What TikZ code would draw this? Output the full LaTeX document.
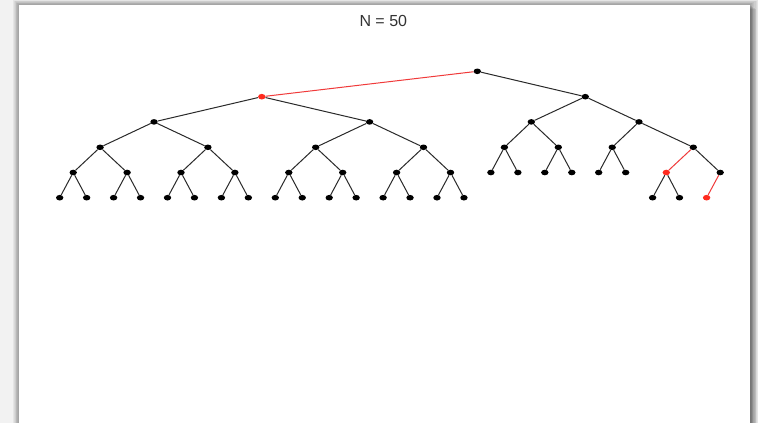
\documentclass[tikz,border=0pt]{standalone}
\usepackage{fontspec}
\setmainfont{Liberation Sans}
\usetikzlibrary{shapes.geometric}
\definecolor{bggray}{HTML}{F2F2F2}
\definecolor{hlred}{HTML}{FF2A1E}
\definecolor{hlline}{HTML}{F03A3A}
\definecolor{edgegray}{HTML}{2A2A2A}
\tikzset{
  dot/.style={shape=ellipse, fill=black, draw=none, minimum width=7.4pt, minimum height=5.6pt, inner sep=0pt},
  reddot/.style={dot, fill=hlred},
  edge/.style={draw=edgegray, line width=1pt},
  redge/.style={draw=hlline, line width=1pt},
  title/.style={font=\fontsize{16}{18}\selectfont, text=black!80, anchor=base, inner sep=0pt}
}
\begin{document}
\begin{tikzpicture}[x=1pt,y=-1pt]
\useasboundingbox (0,0) rectangle (758,423);
\fill[bggray] (0,0) rectangle (758,423);
% panel shadow
\foreach \i in {1,...,7}{
  \fill[black, opacity=0.05] ({18.7-0.8*\i},{4.7-0.7*\i}) rectangle ({750+1.1*\i},430);
}
\foreach \i in {1,...,4}{
  \fill[black, opacity=0.08] (750,{4.7+\i}) rectangle ({750+1.5*\i},430);
}
\fill[white] (18.7,4.7) rectangle (750,430);
% title
\node[title] (ttl) at (383.3,26) {N = 50};

% ---- left subtree ----
\foreach \i in {0,...,15}{
  \node[dot] (p\i) at ({59.7+26.95*\i},197.7) {};
}
\foreach \i in {0,...,7}{
  \node[dot] (q\i) at ({73.2+53.9*\i},172.5) {};
}
\foreach \i in {0,...,3}{
  \node[dot] (s\i) at ({100.1+107.8*\i},147.3) {};
}
\node[dot] (t0) at (154.0,121.9) {};
\node[dot] (t1) at (369.6,121.9) {};
\node[reddot] (L) at (261.8,96.7) {};
\node[dot] (root) at (477.3,71.3) {};

\foreach \i in {0,...,7}{
  \pgfmathtruncatemacro{\a}{2*\i}
  \pgfmathtruncatemacro{\b}{2*\i+1}
  \draw[edge] (q\i) -- (p\a);
  \draw[edge] (q\i) -- (p\b);
}
\foreach \i in {0,...,3}{
  \pgfmathtruncatemacro{\a}{2*\i}
  \pgfmathtruncatemacro{\b}{2*\i+1}
  \draw[edge] (s\i) -- (q\a);
  \draw[edge] (s\i) -- (q\b);
}
\draw[edge] (t0) -- (s0);
\draw[edge] (t0) -- (s1);
\draw[edge] (t1) -- (s2);
\draw[edge] (t1) -- (s3);
\draw[edge] (L) -- (t0);
\draw[edge] (L) -- (t1);
\draw[redge] (root) -- (L);

% ---- right subtree ----
\node[dot] (R) at (585.3,96.7) {};
\node[dot] (RL) at (531.3,121.9) {};
\node[dot] (RR) at (639.0,121.9) {};
\node[dot] (RLL) at (504.4,147.3) {};
\node[dot] (RLR) at (558.3,147.3) {};
\node[dot] (RRL) at (612.2,147.3) {};
\node[dot] (RRR) at (693.3,147.3) {};
\node[dot] (u0) at (490.9,172.5) {};
\node[dot] (u1) at (517.9,172.5) {};
\node[dot] (u2) at (544.8,172.5) {};
\node[dot] (u3) at (571.8,172.5) {};
\node[dot] (u4) at (598.7,172.5) {};
\node[dot] (u5) at (625.7,172.5) {};
\node[reddot] (u6) at (666.3,172.5) {};
\node[dot] (u7) at (720.2,172.5) {};
\node[dot] (v0) at (652.6,197.7) {};
\node[dot] (v1) at (679.5,197.7) {};
\node[reddot] (v2) at (706.6,197.7) {};

\draw[edge] (root) -- (R);
\draw[edge] (R) -- (RL);
\draw[edge] (R) -- (RR);
\draw[edge] (RL) -- (RLL);
\draw[edge] (RL) -- (RLR);
\draw[edge] (RR) -- (RRL);
\draw[edge] (RR) -- (RRR);
\draw[edge] (RLL) -- (u0);
\draw[edge] (RLL) -- (u1);
\draw[edge] (RLR) -- (u2);
\draw[edge] (RLR) -- (u3);
\draw[edge] (RRL) -- (u4);
\draw[edge] (RRL) -- (u5);
\draw[redge] (RRR) -- (u6);
\draw[edge] (RRR) -- (u7);
\draw[edge] (u6) -- (v0);
\draw[edge] (u6) -- (v1);
\draw[redge] (u7) -- (v2);
\end{tikzpicture}
\end{document}
